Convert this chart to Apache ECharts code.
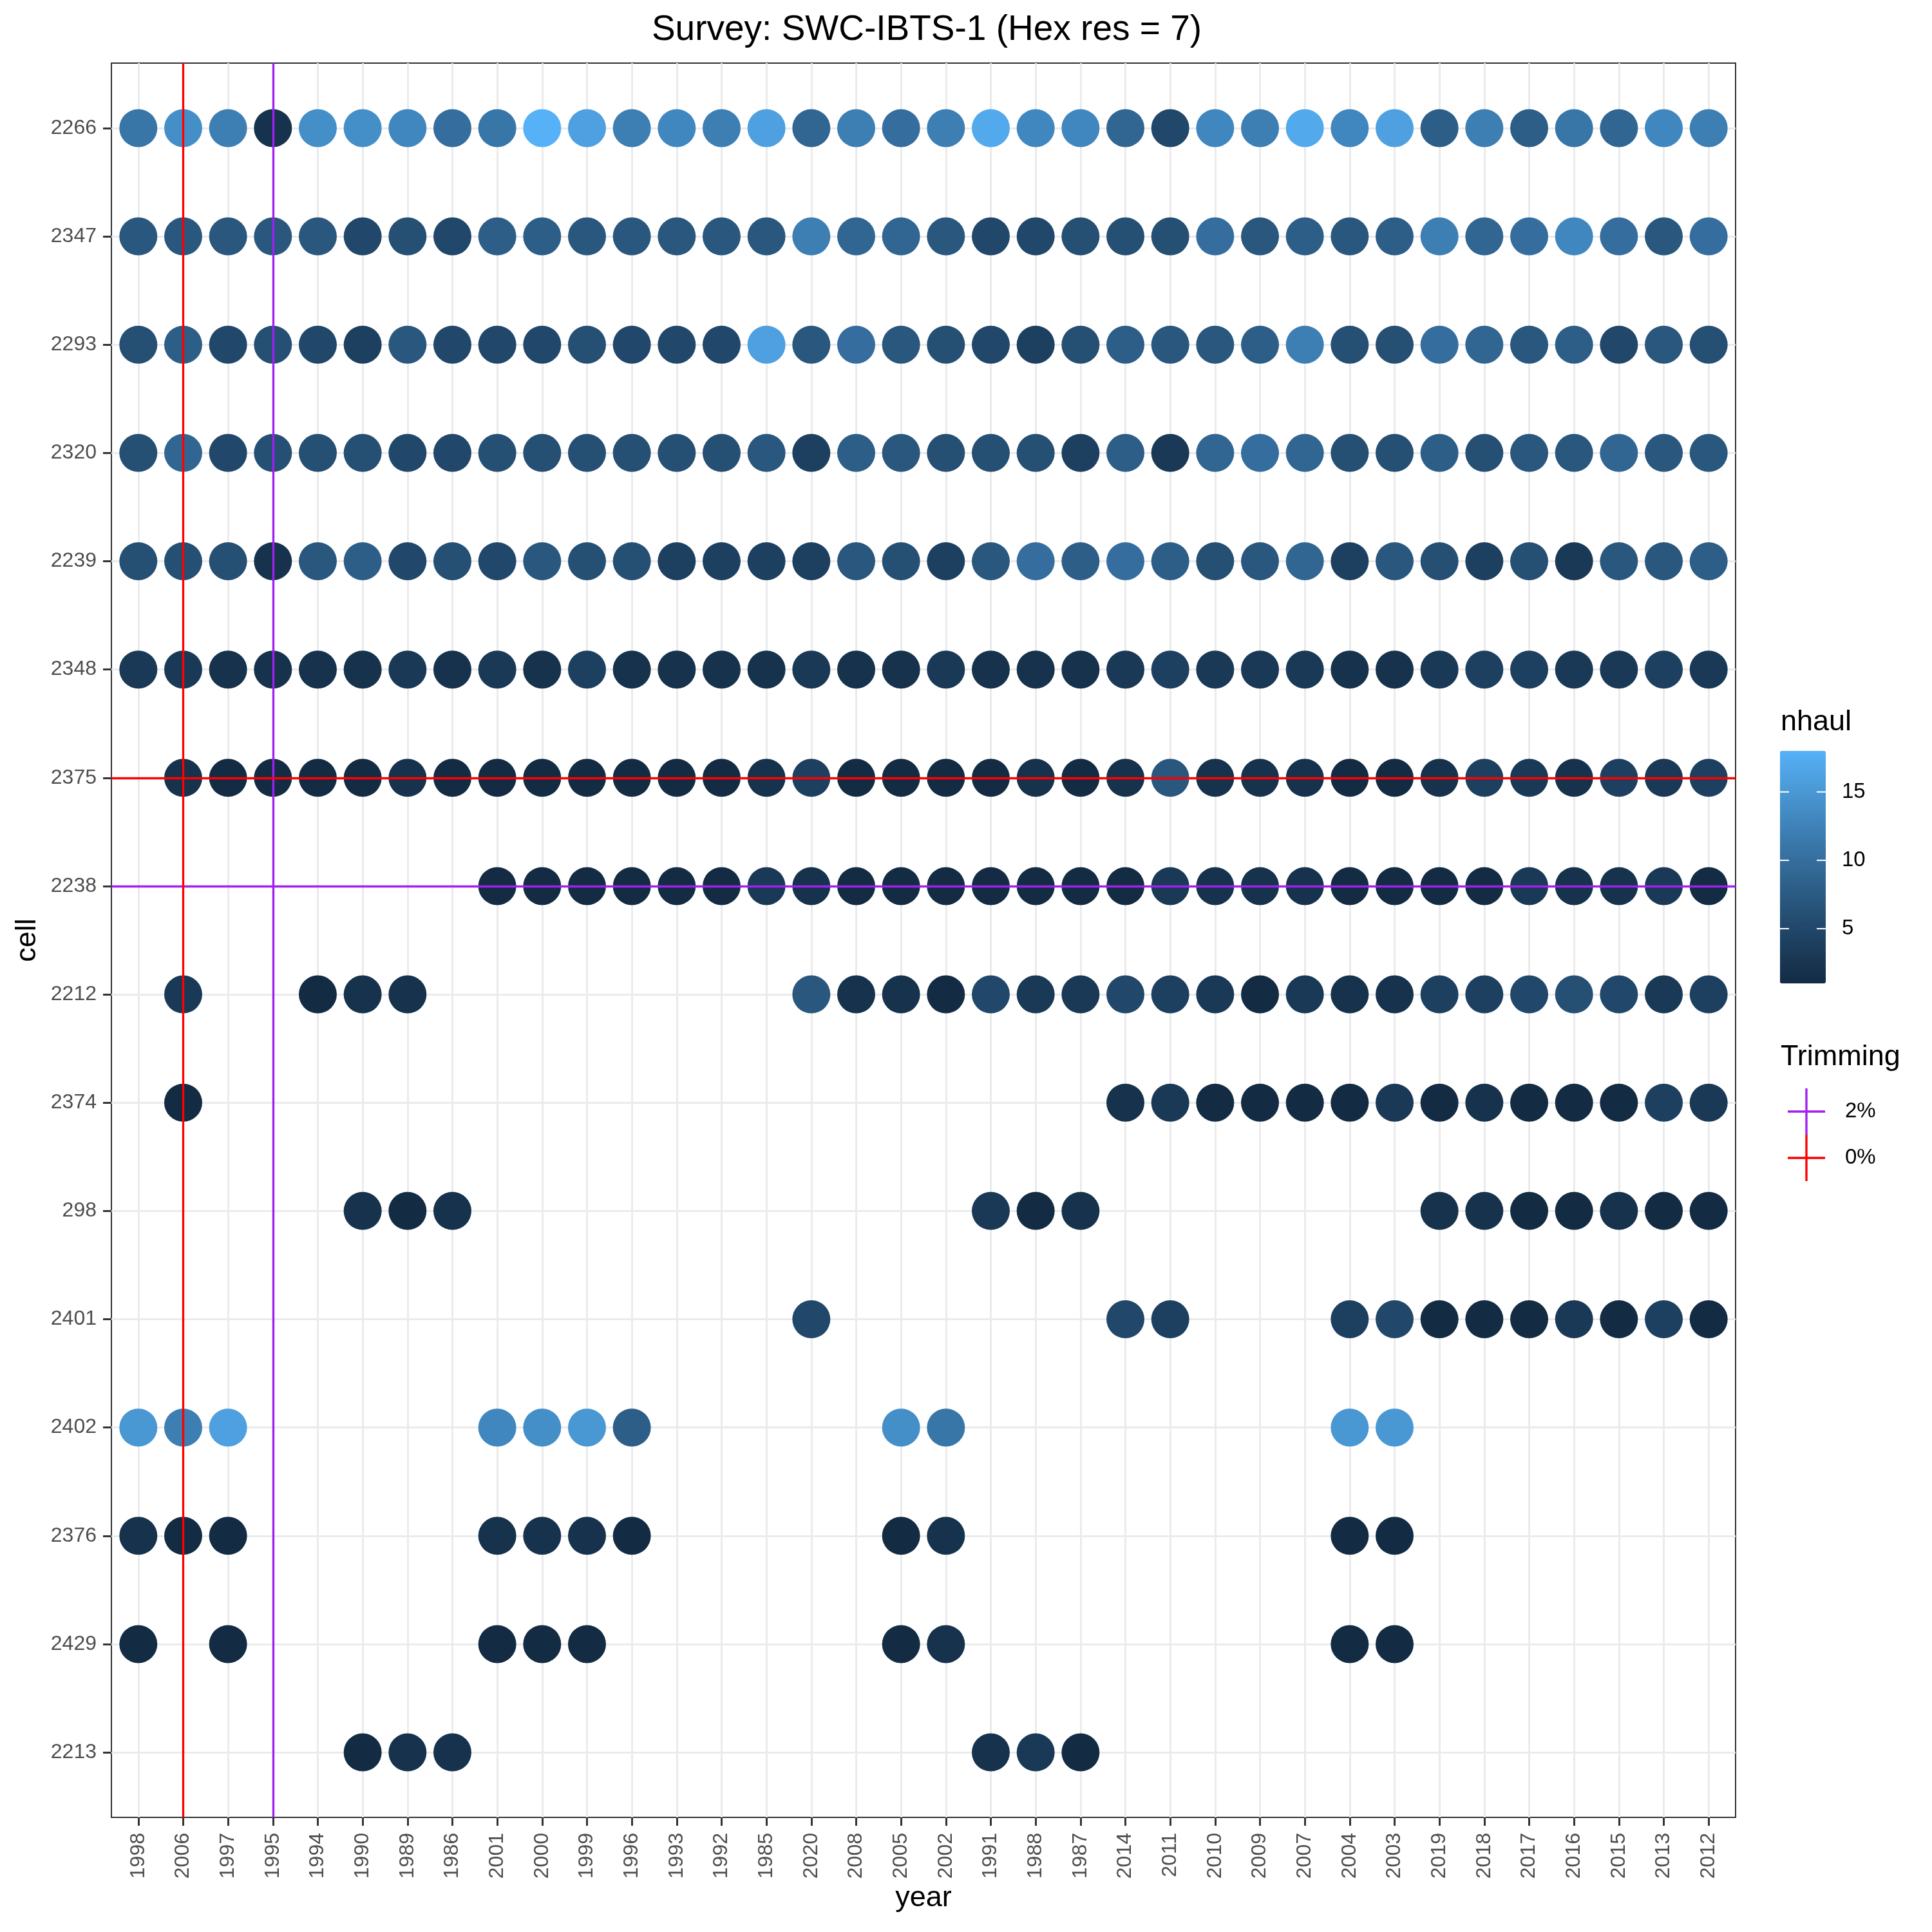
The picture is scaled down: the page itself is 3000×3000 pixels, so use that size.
<!DOCTYPE html>
<html><head><meta charset="utf-8">
<script src="https://cdn.jsdelivr.net/npm/echarts@6/dist/echarts.min.js"></script>
<style>html,body{margin:0;padding:0;background:#fff}#c{width:3000px;height:3000px}</style>
</head><body><div id="c"></div>
<script>
// ---------- DATA ----------
const years = ['1998','2006','1997','1995','1994','1990','1989','1986','2001','2000','1999','1996','1993','1992','1985','2020','2008','2005','2002','1991','1988','1987','2014','2011','2010','2009','2007','2004','2003','2019','2018','2017','2016','2015','2013','2012'];
const cells = ['2266','2347','2293','2320','2239','2348','2375','2238','2212','2374','298','2401','2402','2376','2429','2213'];

// nhaul per cell, aligned with years (null = no data)
const nhaul_2266 = [11,14,12,2,14,14,13,10,11,18,16,12,13,12,16,9,12,10,12,17,13,13,9,5,13,12,17,13,16,8,12,8,11,9,13,12];
const nhaul_2347 = [7,7,7,7,7,5,6,5,8,8,7,7,7,7,7,12,9,9,7,5,5,6,6,6,10,7,8,7,8,12,9,10,13,10,7,10];
const nhaul_2293 = [6,8,5,6,5,4,7,5,5,5,6,5,5,5,16,7,10,7,6,5,4,6,8,7,7,8,12,6,6,10,9,7,8,5,7,6];
const nhaul_2320 = [6,9,5,6,6,6,5,5,6,6,6,6,6,6,7,4,8,7,6,6,6,4,8,3,9,10,9,6,6,8,6,7,7,9,7,7];
const nhaul_2239 = [6,6,6,2,7,8,5,6,5,7,6,6,4,4,4,4,7,6,4,7,10,8,10,8,6,7,9,4,7,6,4,6,3,7,7,8];
const nhaul_2348 = [3,3,2,2,2,2,3,2,3,2,4,2,2,2,2,3,2,2,3,2,2,2,3,4,3,3,3,2,2,3,4,4,3,3,4,3];
const nhaul_2375 = [null,2,1,1,1,1,2,1,1,1,1,1,1,1,2,4,1,1,1,1,2,1,2,7,2,2,2,1,1,2,4,3,2,4,3,4];
const nhaul_2238 = [null,null,null,null,null,null,null,null,1,1,1,1,1,1,3,2,1,1,1,1,1,1,1,3,2,2,2,1,1,1,1,3,2,2,3,1];
const nhaul_2212 = [null,3,null,null,1,2,2,null,null,null,null,null,null,null,null,7,2,2,1,5,3,3,5,4,3,1,3,2,2,4,4,5,6,5,3,4];
const nhaul_2374 = [null,1,null,null,null,null,null,null,null,null,null,null,null,null,null,null,null,null,null,null,null,null,2,3,1,1,1,1,3,1,2,1,1,1,4,3];
const nhaul_298  = [null,null,null,null,null,2,1,2,null,null,null,null,null,null,null,null,null,null,null,3,1,2,null,null,null,null,null,null,null,2,2,1,1,2,1,1];
const nhaul_2401 = [null,null,null,null,null,null,null,null,null,null,null,null,null,null,null,5,null,null,null,null,null,null,5,4,null,null,null,4,5,1,1,1,3,1,4,1];
const nhaul_2402 = [15,12,16,null,null,null,null,null,13,14,15,8,null,null,null,null,null,14,11,null,null,null,null,null,null,null,null,15,15,null,null,null,null,null,null,null];
const nhaul_2376 = [2,1,1,null,null,null,null,null,2,2,2,1,null,null,null,null,null,1,2,null,null,null,null,null,null,null,null,1,1,null,null,null,null,null,null,null];
const nhaul_2429 = [1,null,1,null,null,null,null,null,1,1,1,null,null,null,null,null,null,1,2,null,null,null,null,null,null,null,null,1,1,null,null,null,null,null,null,null];
const nhaul_2213 = [null,null,null,null,null,1,2,2,null,null,null,null,null,null,null,null,null,null,null,2,3,1,null,null,null,null,null,null,null,null,null,null,null,null,null,null];

const trim0 = {year: '2006', cell: '2375'};   // 0% (red)
const trim2 = {year: '1995', cell: '2238'};   // 2% (purple)
const nhaulMin = 1, nhaulMax = 18;
const nhaulTicks = [5, 10, 15];

// ---------- BUILD ----------
const rows = [nhaul_2266,nhaul_2347,nhaul_2293,nhaul_2320,nhaul_2239,nhaul_2348,nhaul_2375,nhaul_2238,
              nhaul_2212,nhaul_2374,nhaul_298,nhaul_2401,nhaul_2402,nhaul_2376,nhaul_2429,nhaul_2213];
const points = [];
rows.forEach((row, j) => row.forEach((v, i) => { if (v !== null) points.push([i, j, v]); }));

// ggplot2 default gradient (#132B43 -> #56B1F7) interpolated in CIE Lab
function lin(c){c/=255;return c<=0.04045?c/12.92:Math.pow((c+0.055)/1.055,2.4);}
function delin(c){c=c<=0.0031308?12.92*c:1.055*Math.pow(c,1/2.4)-0.055;return Math.max(0,Math.min(255,Math.round(c*255)));}
const Xn=0.95047,Yn=1,Zn=1.08883;
function ff(t){return t>216/24389?Math.cbrt(t):(24389/27*t+16)/116;}
function fi(t){const t3=t*t*t;return t3>216/24389?t3:(116*t-16)/(24389/27);}
function hexRgb(h){return [1,3,5].map(k=>parseInt(h.slice(k,k+2),16));}
function toLab(h){const [r,g,b]=hexRgb(h).map(lin);
  const X=0.4124564*r+0.3575761*g+0.1804375*b,Y=0.2126729*r+0.7151522*g+0.0721750*b,Z=0.0193339*r+0.1191920*g+0.9503041*b;
  const fx=ff(X/Xn),fy=ff(Y/Yn),fz=ff(Z/Zn);return [116*fy-16,500*(fx-fy),200*(fy-fz)];}
function fromLab(l){const fy=(l[0]+16)/116,fx=fy+l[1]/500,fz=fy-l[2]/200;
  const X=Xn*fi(fx),Y=Yn*fi(fy),Z=Zn*fi(fz);
  const r=3.2404542*X-1.5371385*Y-0.4985314*Z,g=-0.9692660*X+1.8760108*Y+0.0415560*Z,b=0.0556434*X-0.2040259*Y+1.0572252*Z;
  return 'rgb('+[r,g,b].map(delin).join(',')+')';}
const labLo=toLab('#132B43'), labHi=toLab('#56B1F7');
const stops=[];
for(let k=0;k<=24;k++){const t=k/24;stops.push(fromLab([0,1,2].map(d=>labLo[d]+(labHi[d]-labLo[d])*t)));}

const FONT = '"Liberation Sans", Arial, Helvetica, sans-serif';
const idx = years.map((_, i) => i);
const cidx = cells.map((_, i) => i);

// colour-bar legend geometry
const cbLeft = 2764, cbTop = 1166, cbW = 71, cbH = 361;
const cbY = v => cbTop + (nhaulMax - v) / (nhaulMax - nhaulMin) * cbH;
const cbGraphics = [];
nhaulTicks.forEach(v => {
  cbGraphics.push({type:'line', shape:{x1:cbLeft, y1:cbY(v), x2:cbLeft+14, y2:cbY(v)}, style:{stroke:'#fff', lineWidth:2}, z:100});
  cbGraphics.push({type:'line', shape:{x1:cbLeft+cbW-14, y1:cbY(v), x2:cbLeft+cbW, y2:cbY(v)}, style:{stroke:'#fff', lineWidth:2}, z:100});
  cbGraphics.push({type:'text', x:2860, y:cbY(v), style:{text:String(v), font:'33px '+FONT, fill:'#000', verticalAlign:'middle', align:'left'}, z:100});
});
cbGraphics.push({type:'text', x:2765, y:1122, style:{text:'nhaul', font:'45px '+FONT, fill:'#000', verticalAlign:'middle', align:'left'}});
cbGraphics.push({type:'text', x:2765, y:1642, style:{text:'Trimming', font:'45px '+FONT, fill:'#000', verticalAlign:'middle', align:'left'}});

const crossIcon = 'path://M0,34.3h58v3.4h-58z M27.3,0h3.4v72h-3.4z';

function trimSeries(name, color, t) {
  return {
    name, type:'scatter', data:[], z:5, itemStyle:{color, opacity:1},
    markLine:{
      silent:true, symbol:['none','none'], animation:false,
      label:{show:false}, emphasis:{disabled:true},
      lineStyle:{color, width:3.3, type:'solid', opacity:1},
      data:[{xAxis: years.indexOf(t.year)}, {yAxis: cells.indexOf(t.cell)}]
    }
  };
}

const chart = echarts.init(document.getElementById('c'), null, {renderer:'canvas'});
chart.setOption({
  animation:false,
  backgroundColor:'#fff',
  textStyle:{fontFamily:FONT},
  title:{text:'Survey: SWC-IBTS-1 (Hex res = 7)', left:1434, textAlign:'center', top:14,
         textStyle:{fontSize:55, fontWeight:'normal', color:'#000', fontFamily:FONT}},
  grid:{left:173, top:98, width:2522, height:2724, show:true, borderColor:'#333333', borderWidth:2, backgroundColor:'#fff'},
  xAxis:{
    type:'value', min:-0.6, max:35.6,
    axisLine:{show:false, onZero:false},
    axisTick:{show:true, length:13, lineStyle:{color:'#333333', width:3}, customValues:idx},
    axisLabel:{customValues:idx, formatter:v => years[Math.round(v)], rotate:90, fontSize:32, color:'#4D4D4D', margin:24, fontFamily:FONT},
    splitLine:{show:true, lineStyle:{color:'#EBEBEB', width:3}},
    name:'year', nameLocation:'middle', nameGap:100, nameTextStyle:{fontSize:45, color:'#000', fontFamily:FONT}
  },
  yAxis:{
    type:'value', inverse:true, min:-0.6, max:15.6,
    axisLine:{show:false, onZero:false},
    axisTick:{show:true, length:13, lineStyle:{color:'#333333', width:3}, customValues:cidx},
    axisLabel:{customValues:cidx, formatter:v => cells[Math.round(v)], fontSize:32, color:'#4D4D4D', margin:23, fontFamily:FONT},
    splitLine:{show:true, lineStyle:{color:'#EBEBEB', width:3}},
    name:'cell', nameLocation:'middle', nameGap:108, nameTextStyle:{fontSize:45, color:'#000', fontFamily:FONT}
  },
  visualMap:{
    type:'continuous', min:nhaulMin, max:nhaulMax, dimension:2, seriesIndex:0,
    inRange:{color:stops}, calculable:false, hoverLink:false, realtime:false,
    left:cbLeft, top:cbTop, itemWidth:cbW, itemHeight:cbH, padding:0, text:null, show:true
  },
  legend:{
    data:['2%','0%'], orient:'vertical', left:2771, top:1685,
    itemWidth:58, itemHeight:72, itemGap:0, icon:crossIcon, selectedMode:false,
    textStyle:{fontSize:33, color:'#000', fontFamily:FONT, padding:[0,0,0,26]}
  },
  graphic:cbGraphics,
  series:[
    {type:'scatter', data:points, symbol:'circle', symbolSize:59, z:2, encode:{x:0, y:1},
     itemStyle:{opacity:1}, emphasis:{disabled:true}},
    trimSeries('2%', '#A020F0', trim2),
    trimSeries('0%', '#FF0000', trim0)
  ]
});
</script></body></html>
